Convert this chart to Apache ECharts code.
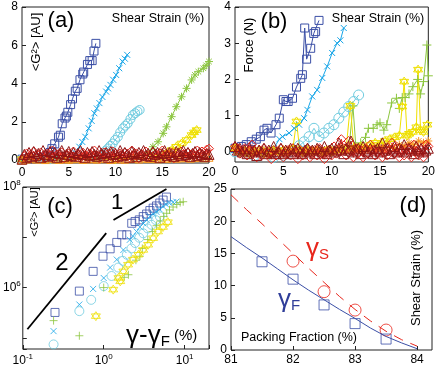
<!DOCTYPE html>
<html><head><meta charset="utf-8">
<script src="https://cdn.jsdelivr.net/npm/echarts@6/dist/echarts.min.js"></script>
<style>html,body{margin:0;padding:0;background:#fff}#c{width:438px;height:375px}</style>
</head><body><div id="c"></div>
<script>
// ---------- Panel (a): <G^2> vs shear strain ----------
var strainGrid = [0,0.5,1,1.5,2,2.5,3,3.5,4,4.5,5,5.5,6,6.5,7,7.5,8,8.5,9,9.5,10,10.5,11,11.5,12,12.5,13,13.5,14,14.5,15,15.5,16,16.5,17,17.5,18,18.5,19,19.5,20];
var strainFine = [0,0.25,0.5,0.75,1,1.25,1.5,1.75,2,2.25,2.5,2.75,3,3.25,3.5,3.75,4,4.25,4.5,4.75,5,5.25,5.5,5.75,6,6.25,6.5,6.75,7,7.25,7.5,7.75,8,8.25,8.5,8.75,9,9.25,9.5,9.75,10,10.25,10.5,10.75,11,11.25,11.5,11.75,12,12.25,12.5,12.75,13,13.25,13.5,13.75,14,14.25,14.5,14.75,15,15.25,15.5,15.75,16,16.25,16.5,16.75,17,17.25,17.5,17.75,18,18.25,18.5,18.75,19,19.25,19.5,19.75,20];
var aDarkBlue = [[0,0.05],[1,0.05],[2,0.1],[2.6,0.2],[3.0,0.4],[3.2,0.6],[3.5,0.85],[3.9,1.2],[4.1,1.3],[4.3,1.9],[4.6,2.2],[4.75,2.3],[4.9,2.5],[5.2,2.9],[5.4,3.2],[5.7,3.6],[5.9,3.75],[6.2,4.2],[6.5,4.5],[6.6,4.6],[7.0,5.0],[7.25,5.2],[7.5,5.2],[7.7,5.7],[7.9,6.1]];
var aSky = [[0,0],[2,0.05],[4,0.05],[5.0,0.1],[5.5,0.2],[5.77,0.36],[6.13,0.7],[6.45,0.95],[6.77,1.22],[7.13,1.66],[7.45,2.05],[7.74,2.45],[8.0,2.7],[8.28,2.98],[8.6,3.3],[9.0,3.58],[9.2,3.75],[9.46,3.93],[9.75,4.2],[10.07,4.45],[10.4,4.8],[10.76,5.15],[11.0,5.3],[11.25,5.5]];
var aCyan = [[0,0.05],[3,0.05],[6,0.1],[8,0.15],[8.45,0.25],[8.7,0.35],[8.95,0.5],[9.2,0.61],[9.45,0.75],[9.7,0.87],[9.95,1.05],[10.25,1.22],[10.5,1.45],[10.8,1.66],[11.05,1.8],[11.3,1.92],[11.6,2.15],[11.86,2.36],[12.1,2.45],[12.35,2.55],[12.58,2.62]];
var aGreen = [[0,0.05],[4,0.05],[8,0.05],[12,0.1],[13.5,0.4],[14.0,0.7],[14.55,0.96],[15.1,1.4],[15.45,1.74],[16.0,2.27],[16.5,2.79],[17.06,3.31],[17.6,3.75],[18.14,4.19],[18.5,4.45],[18.86,4.62],[19.4,4.8],[19.7,4.95],[20.0,5.15]];
var aYellow = [[0,0.05],[5,0.05],[10,0.05],[14,0.1],[14.8,0.17],[15.45,0.35],[16.0,0.52],[16.5,0.7],[17.06,0.87],[17.6,1.05],[18.14,1.31],[18.4,1.45],[18.68,1.57]];
var aOrange = [0,0.05,0.1,0.05,0.08,0.03,0.1,0.06,0.04,0.09,0.05,0.07,0.1,0.04,0.06,0.08,0.05,0.1,0.07,0.04,0.09,0.06,0.05,0.08,0.1,0.06,0.12,0.08,0.1,0.07,0.12,0.09,0.14,0.1,0.12,0.15,0.1,0.13,0.16,0.12,0.15];
var aRed = [0.05,0.2,0.35,0.1,0.3,0.45,0.15,0.25,0.4,0.2, 0.1,0.35,0.25,0.5,0.15,0.3,0.2,0.4,0.1,0.25, 0.35,0.15,0.45,0.2,0.3,0.1,0.4,0.25,0.15,0.35, 0.2,0.5,0.25,0.1,0.3,0.4,0.15,0.35,0.2,0.45, 0.25,0.1,0.35,0.2,0.4,0.3,0.15,0.5,0.25,0.35, 0.1,0.3,0.2,0.45,0.25,0.15,0.4,0.3,0.2,0.35, 0.5,0.15,0.3,0.25,0.4,0.1,0.35,0.2,0.45,0.3, 0.15,0.4,0.25,0.35,0.2,0.5,0.3,0.45,0.25,0.55, 0.6];
var aDarkRed = [0.05,0.3,0.15,0.4,0.2,0.45,0.25,0.35,0.15,0.5, 0.3,0.2,0.45,0.25,0.4,0.15,0.35,0.5,0.2,0.3, 0.45,0.25,0.4,0.2,0.35,0.5,0.3,0.15,0.4,0.25, 0.45,0.3,0.2,0.5,0.35,0.25,0.4,0.15,0.45,0.3, 0.35,0.2,0.5,0.25,0.4,0.3,0.15,0.45,0.35,0.2, 0.4,0.3,0.5,0.25,0.35,0.2,0.45,0.3,0.4,0.15, 0.35,0.5,0.25,0.4,0.3,0.2,0.45,0.35,0.25,0.5, 0.3,0.4,0.2,0.35,0.45,0.25,0.4,0.3,0.2,0.35, 0.3];
var aYTicks = [0,2,4,6,8];

// ---------- Panel (b): Force vs shear strain ----------
var bDarkBlue = [[0,0.1],[0.66,0.15],[1.17,0.2],[1.68,0.28],[2.2,0.35],[2.63,0.42],[3.0,0.6],[3.31,0.65],[3.73,0.52],[4.24,0.75],[4.58,0.93],[5.0,1.44],[5.27,1.39],[5.5,1.39],[5.95,1.48],[6.36,1.79],[6.8,2.03],[6.97,2.13],[7.21,3.42],[7.41,2.56],[7.83,2.86],[8.15,3.27],[8.34,3.32],[8.69,3.63]];
var bSky = [[0,0.05],[1,0],[2,-0.05],[3,0],[3.5,0.05],[4,0.1],[4.6,0.35],[4.92,0.42],[5.6,0.52],[6.12,0.65],[6.64,0.75],[7.15,0.93],[7.49,1.16],[7.99,1.53],[8.5,1.71],[9.03,2.04],[9.54,2.36],[10.05,2.73],[10.56,3.0],[10.9,3.08],[11.25,3.42]];
var bCyan = [[0,0],[2,-0.1],[4,-0.15],[5,-0.1],[6,0],[6.64,0.17],[7.15,0.28],[7.66,0.42],[8.17,0.65],[8.69,0.42],[9.2,0.52],[9.71,0.65],[10.23,0.75],[10.74,0.93],[11.25,1.1],[11.76,1.25],[12.28,1.39],[12.79,1.57]];
var bGreen = [[0,0.05],[1,0],[2,0.05],[3,0],[4,0.05],[5,0],[6,0.05],[7,0],[8,0.05],[9,0],[10,0.05],[11,0.05],[11.8,0.1],[12.2,1.27],[12.5,0.15],[13,0.25],[13.5,0.4],[13.8,0.65],[14.3,0.65],[14.7,0.75],[15.0,0.8],[15.4,0.6],[15.7,0.75],[16.2,1.35],[16.7,1.48],[17.0,1.2],[17.3,1.5],[17.6,1.5],[18.0,1.6],[18.4,1.8],[18.9,2.0],[19.2,1.6],[19.5,1.94],[19.85,2.95],[20,2.1]];
var bYellow = [[0,0.1],[0.5,0],[1,0.05],[1.5,-0.05],[2,0],[2.5,0.05],[3,-0.05],[3.5,0],[4,0.05],[4.5,0],[5,0.05],[5.5,0],[6,0.1],[6.36,0.84],[6.7,0.05],[7,0],[7.5,0.05],[8,0],[8.5,0.05],[9,0],[9.5,0.05],[10,0],[10.5,0.05],[11,0.05],[11.5,0.1],[11.93,1.27],[12.3,0.1],[12.5,0.1],[13,0.15],[13.5,0.1],[14,0.2],[14.5,0.25],[15,0.2],[15.5,0.3],[16,0.35],[16.5,0.4],[17,0.45],[17.3,1.25],[17.5,1.94],[17.8,0.45],[18,0.5],[18.4,0.55],[18.76,0.68],[18.94,2.27],[19.2,0.6],[19.5,0.55],[19.9,0.75]];
var bOrange = [0.1,0.05,0,0.05,-0.05,0,0.05,-0.1,0,0.05,-0.05,0,0.05,0,-0.05,0.05,0,0.05,-0.05,0,0.05,0,0.1,0,0.05,0.1,0,0.05,0.1,0.05,0.1,0.05,0.15,0.1,0.2,0.15,0.25,0.2,0.3,0.25,0.3];
var bRed = [0.15,0.1,-0.05,0.05,0.1,-0.1,0.05,0.2,0,-0.15, 0.05,-0.1,0.1,0,-0.05,-0.2,0.05,-0.1,0,0.1, -0.15,-0.05,0.05,-0.1,0.1,0,-0.2,0.05,-0.1,0, 0.1,-0.15,-0.05,0.05,-0.1,0.1,-0.05,-0.2,0,0.05, -0.1,0.15,-0.05,0.05,0.35,0.1,-0.1,0.3,0.05,-0.15, 0.1,-0.05,0.05,-0.15,0.1,-0.05,0.2,0.05,-0.1,0, 0.05,-0.15,0.1,-0.1,0.05,0.25,-0.05,0.1,-0.15,0.05, -0.1,0.1,0.05,-0.15,0.2,0,-0.1,0.05,-0.15,0.2, 0.15];
var bDarkRed = [0.15,0.05,0.1,0,0.05,-0.05,0.1,0,0.05,-0.1, 0.05,0,0.1,-0.05,0.05,0,0.15,-0.05,0,0.1, -0.05,0.05,0,0.1,-0.05,0.05,0.1,0,-0.05,0.05, 0.1,0,0.05,-0.05,0.1,0.05,0,0.15,-0.05,0.05, 0.1,0,0.05,0.25,0.05,-0.05,0.1,0.05,0.3,0, 0.05,0.1,-0.05,0.15,0.05,0,0.1,-0.05,0.05,0.1, 0,0.25,0.05,0.1,-0.05,0.05,0.15,0,0.1,0.05, 0.2,0,0.1,0.05,-0.05,0.15,0.05,0.1,0,0.05, 0.1];
var bYTicks = [0,1,2,3,4];

// ---------- Panel (c): <G^2> vs (gamma - gamma_F), log-log ----------
var cDarkBlue = [[0.25,3.2e5],[0.5,8.5e5],[0.74,2.1e6],[0.98,4.2e6],[1.2,5.9e6],[1.45,7.9e6],[1.67,1.12e7],[1.93,1.12e7],[2.22,1.9e7],[2.44,2.06e7],[2.75,2.22e7],[3.08,2.58e7],[3.39,2.9e7],[3.72,3.4e7],[4.08,3.8e7],[4.49,4.2e7],[4.93,4.8e7],[5.42,5.5e7],[5.96,6.3e7]];
var cSky = [[0.24,1.36e5],[0.5,4.6e5],[0.74,9.4e5],[1.0,1.55e6],[1.2,2.5e6],[1.45,3.6e6],[1.75,5.6e6],[2.1,8.9e6],[2.3,1.05e7],[2.55,1.3e7],[2.8,1.6e7],[3.08,1.9e7],[3.4,2.2e7],[3.72,2.6e7],[4.1,2.9e7],[4.49,3.2e7],[4.9,3.6e7],[5.42,4.1e7],[5.9,4.5e7],[6.5,4.8e7],[7.2,5.0e7],[7.9,5.1e7]];
var cCyan = [[0.24,7.4e4],[0.5,3.4e5],[0.7,5.7e5],[1.0,1.07e6],[1.25,1.7e6],[1.51,2.5e6],[1.72,3.4e6],[1.93,4.5e6],[2.2,6.0e6],[2.44,7.7e6],[2.75,9.8e6],[3.08,1.2e7],[3.5,1.5e7],[3.9,1.77e7],[4.4,2.2e7],[4.93,2.6e7]];
var cGreen = [[0.24,2.2e5],[0.5,1.1e5],[1.0,1.0e6],[1.79,1.6e6],[2.02,1.8e6],[2.5,3.5e6],[2.8,4.2e6],[3.0,6e6],[3.5,9e6],[4.0,1.3e7],[4.5,1.7e7],[5.0,2.1e7],[5.5,2.6e7],[6.0,3.0e7],[6.5,3.5e7],[7.2,4.0e7],[8.0,4.5e7],[8.8,4.9e7],[9.6,5.1e7]];
var cYellow = [[0.8,2.7e5],[1.31,9.1e5],[1.52,1.55e6],[1.6,1.33e6],[1.75,2.1e6],[2.0,2.85e6],[2.3,3.6e6],[2.68,4.5e6],[3.08,5.6e6],[3.54,7.1e6],[4.08,9.6e6],[4.69,1.3e7],[5.4,1.6e7],[6.2,2.0e7]];
var cSlope2 = [[0.114,1.48e5],[1.074,1.21e7]];
var cSlope1 = [[1.32,2.2e7],[5.96,9.1e7]];
var cYLabelExps = [6,8];

// ---------- Panel (d): shear strain vs packing fraction ----------
var packing = [81.5,82,82.5,83,83.5];
var gammaF = [13.7,11.0,7.0,4.1,1.7];
var packingS = [82,82.5,83,83.5];
var gammaS = [13.8,9.05,6.2,3.1];
var fitX = [81,81.25,81.5,81.75,82,82.25,82.5,82.75,83,83.25,83.5,83.75,84];
var fitF = [17.6,15.9,14.3,12.6,10.9,9.3,7.8,6.3,4.9,3.4,2.1,1.1,0.2];
var fitS = [24.1,21.8,19.6,17.3,15.0,12.7,10.5,8.3,6.3,4.5,2.9,1.6,0.6];
var dXTicks = [81,82,83,84];

// ---------- styling ----------
var FONT = 'Liberation Sans';
var C = {darkBlue:'#3b4fa6', sky:'#18a6e8', cyan:'#70cce0', green:'#8cc63f', yellow:'#efe000', orange:'#f7941d', red:'#e8261c', darkRed:'#8e1414'};
var SYM = {
  sq:'rect', circ:'circle', tri:'triangle', dia:'diamond',
  x:'path://M0,0L10,10M10,0L0,10',
  plus:'path://M5,0L5,10M0,5L10,5',
  star:'path://M5,0L9.33,7.5L0.67,7.5ZM5,10L0.67,2.5L9.33,2.5Z',
  ast:'path://M5,0L5,10M0,5L10,5M1.5,1.5L8.5,8.5M8.5,1.5L1.5,8.5'
};
function zip(xs, ys){ return xs.map(function(x,i){ return [x, ys[i]]; }); }
function ser(idx, data, color, sym, size, opt){
  opt = opt || {};
  return {
    type: opt.scatter ? 'scatter' : 'line', xAxisIndex: idx, yAxisIndex: idx, data: data,
    symbol: sym, symbolSize: size, silent: true, animation: false,
    lineStyle: {color: color, width: opt.lw == null ? 1 : opt.lw, type: opt.dash || 'solid'},
    itemStyle: {color: 'transparent', borderColor: color, borderWidth: 1},
    emphasis: {disabled: true}, z: opt.z || 2
  };
}
function lineOnly(idx, data, color, w, dash){
  return {type:'line', xAxisIndex: idx, yAxisIndex: idx, data: data, symbol:'none', silent:true, animation:false,
    lineStyle:{color:color, width:w, type: dash || 'solid'}, emphasis:{disabled:true}};
}
var lab = {color:'#000', fontSize:12, fontFamily:FONT};
function valAxis(idx, min, max, extra){
  var o = {type:'value', gridIndex: idx, min:min, max:max,
    axisLine:{show:false}, splitLine:{show:false},
    axisTick:{inside:true, length:4, lineStyle:{color:'#222'}},
    axisLabel:Object.assign({margin:4}, lab)};
  if (extra) {
    if (extra.interval) o.interval = extra.interval;
    if (extra.ticks) { o.axisLabel.customValues = extra.ticks; o.axisTick.customValues = extra.ticks; }
  }
  return o;
}
function makeLogFmt(allowed){
  return function(v){
    var e = Math.log10(v), r = Math.round(e);
    if (Math.abs(e - r) > 1e-6) return '';
    if (allowed && allowed.indexOf(r) < 0) return '';
    return '{b|10}{s|' + r + '}';
  };
}
var logRich = {b:{fontSize:12, fontFamily:FONT, color:'#000', lineHeight:16}, s:{fontSize:8, fontFamily:FONT, color:'#000', verticalAlign:'top', lineHeight:8}};
function logAxis(idx, min, max, margin, allowed){
  return {type:'log', gridIndex: idx, min:min, max:max, logBase:10,
    axisLine:{show:false}, splitLine:{show:false}, minorTick:{show:false},
    axisTick:{inside:true, length:4, lineStyle:{color:'#222'}},
    axisLabel:{margin:margin, formatter:makeLogFmt(allowed), rich:logRich}};
}
var gridStyle = {show:true, borderColor:'#222', borderWidth:1, backgroundColor:'transparent', containLabel:false};

var series = [];
// (a)
series.push(ser(0, aDarkBlue, C.darkBlue, SYM.sq, 8));
series.push(ser(0, aSky, C.sky, SYM.x, 6));
series.push(ser(0, aCyan, C.cyan, SYM.circ, 9));
series.push(ser(0, aGreen, C.green, SYM.ast, 8));
series.push(ser(0, aYellow, C.yellow, SYM.star, 9));
series.push(ser(0, zip(strainGrid, aOrange), C.orange, SYM.tri, 8));
series.push(ser(0, zip(strainFine, aRed), C.red, SYM.dia, 9));
series.push(ser(0, zip(strainFine, aDarkRed), C.darkRed, SYM.tri, 10));
// (b)
series.push(ser(1, bDarkBlue, C.darkBlue, SYM.sq, 8));
series.push(ser(1, bSky, C.sky, SYM.x, 6));
series.push(ser(1, bCyan, C.cyan, SYM.circ, 10));
series.push(ser(1, bGreen, C.green, SYM.plus, 9));
series.push(ser(1, bYellow, C.yellow, SYM.star, 9));
series.push(ser(1, zip(strainGrid, bOrange), C.orange, SYM.ast, 8));
series.push(ser(1, zip(strainFine, bRed), C.red, SYM.dia, 9));
series.push(ser(1, zip(strainFine, bDarkRed), C.darkRed, SYM.tri, 10));
// (c)
series.push(lineOnly(2, cSlope2, '#000', 1.8));
series.push(lineOnly(2, cSlope1, '#000', 1.8));
series.push(ser(2, cDarkBlue, C.darkBlue, SYM.sq, 8, {scatter:true}));
series.push(ser(2, cSky, C.sky, SYM.x, 6, {scatter:true}));
series.push(ser(2, cCyan, C.cyan, SYM.circ, 9, {scatter:true}));
series.push(ser(2, cGreen, C.green, SYM.plus, 8, {scatter:true}));
series.push(ser(2, cYellow, C.yellow, SYM.star, 9, {scatter:true}));
// (d)
series.push(lineOnly(3, zip(fitX, fitF), C.darkBlue, 1));
series.push(lineOnly(3, zip(fitX, fitS), C.red, 1, [10,8]));
series.push(ser(3, zip(packing, gammaF), C.darkBlue, SYM.sq, 10, {scatter:true}));
series.push(ser(3, zip(packingS, gammaS), C.red, SYM.circ, 12, {scatter:true}));

function txt(x, y, text, size, color, rot, extra){
  var st = Object.assign({text:text, fontSize:size, fontFamily:FONT, fill:color||'#000', align:'center', verticalAlign:'middle'}, extra||{});
  return {type:'text', x:x, y:y, rotation: rot||0, silent:true, z:100, style:st};
}
var graphics = [
  txt(61, 21, '(a)', 22), txt(158, 19, 'Shear Strain (%)', 12.5), txt(36, 42, '<G²> [AU]', 13, '#000', Math.PI/2),
  txt(274, 22, '(b)', 22), txt(378, 19, 'Shear Strain (%)', 12.5), txt(249, 45, 'Force (N)', 13, '#000', Math.PI/2),
  txt(60, 207, '(c)', 22), txt(35, 212, '<G²> [AU]', 11, '#000', Math.PI/2),
  txt(117, 203, '1', 22), txt(62, 263, '2', 24),
  txt(126, 336, '{g|γ-γ}{s|F}{p| (%)}', 24, '#000', 0, {align:'left', rich:{g:{fontSize:26, fontFamily:FONT, fill:'#000'}, s:{fontSize:15, fontFamily:FONT, fill:'#000', verticalAlign:'bottom'}, p:{fontSize:15, fontFamily:FONT, fill:'#000'}}}),
  txt(413, 206, '(d)', 22),
  txt(306, 249, '{g|γ}{s|S}', 24, C.red, 0, {align:'left', rich:{g:{fontSize:26, fontFamily:FONT, fill:C.red}, s:{fontSize:15, fontFamily:FONT, fill:C.red, verticalAlign:'bottom'}}}),
  txt(278, 300, '{g|γ}{s|F}', 24, '#2f3d99', 0, {align:'left', rich:{g:{fontSize:26, fontFamily:FONT, fill:'#2f3d99'}, s:{fontSize:15, fontFamily:FONT, fill:'#2f3d99', verticalAlign:'bottom'}}}),
  txt(299, 338, 'Packing Fraction (%)', 12.5),
  txt(416, 278, 'Shear Strain (%)', 13, '#000', Math.PI/2)
];

var chart = echarts.init(document.getElementById('c'), null, {renderer:'canvas'});
chart.setOption({
  backgroundColor:'#fff', animation:false,
  grid:[
    Object.assign({left:22, top:7, width:187, height:156}, gridStyle),
    Object.assign({left:235, top:7, width:196, height:155}, gridStyle),
    Object.assign({left:22, top:187, width:187, height:162}, gridStyle),
    Object.assign({left:231, top:189, width:201, height:161}, gridStyle)
  ],
  xAxis:[
    valAxis(0, 0, 20, {interval:5}),
    valAxis(1, 0, 20, {interval:5}),
    logAxis(2, 0.1, 20, 4, null),
    valAxis(3, 81, 84.24, {ticks:dXTicks})
  ],
  yAxis:[
    valAxis(0, -0.15, 8, {ticks:aYTicks}),
    valAxis(1, -0.28, 4, {ticks:bYTicks}),
    logAxis(2, 6e4, 1e8, 2, cYLabelExps),
    valAxis(3, 0, 25, {interval:5})
  ],
  series: series,
  graphic: graphics
});
</script>
</body></html>
